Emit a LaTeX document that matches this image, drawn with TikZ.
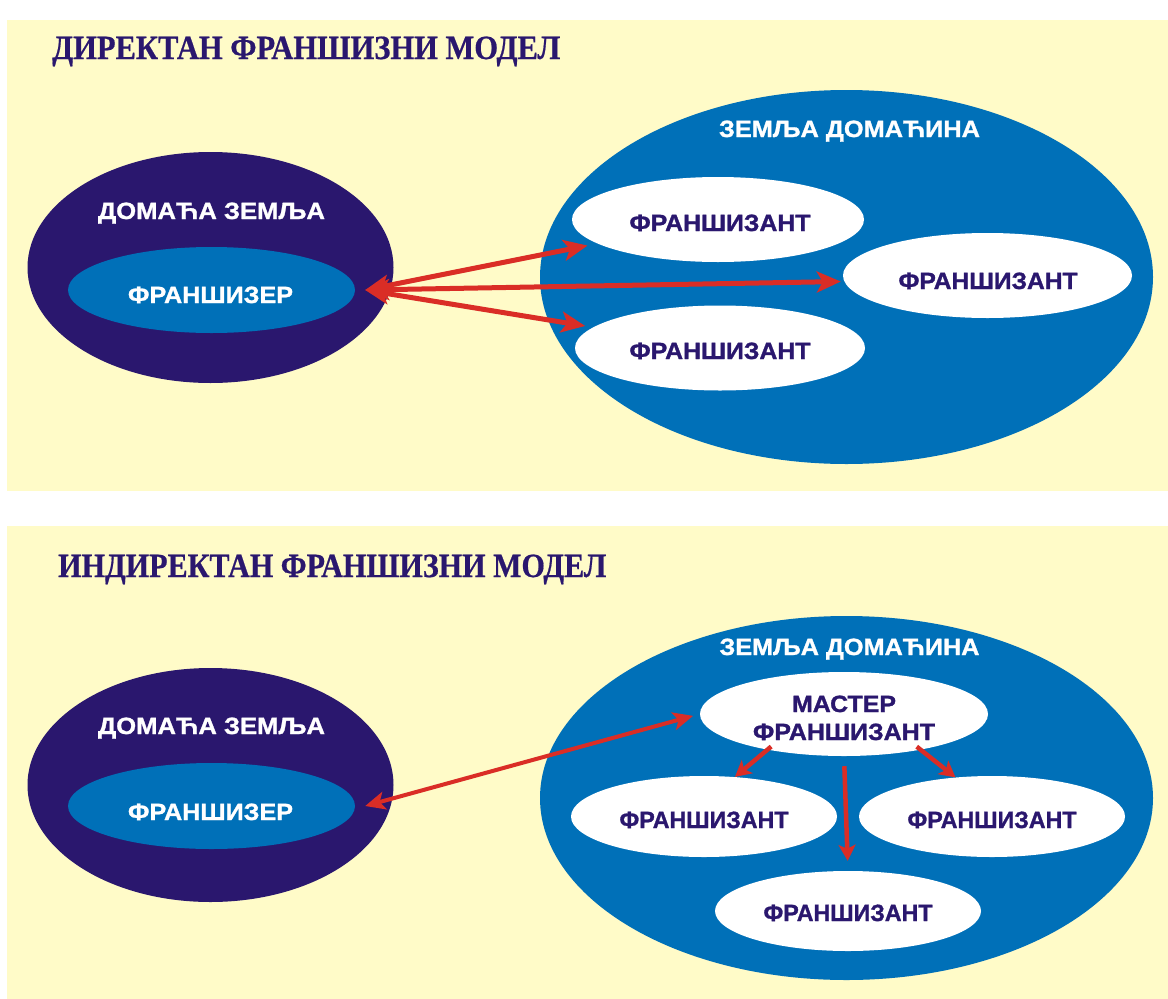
\documentclass[tikz,border=0pt]{standalone}
\usepackage{graphicx}
\usepackage{fontspec}
\setmainfont{Liberation Serif}[BoldFeatures={FakeBold=0.6}]
\setsansfont{Liberation Sans}[BoldFeatures={FakeBold=1.2}]
\usetikzlibrary{arrows.meta,shapes.geometric,calc}
\definecolor{bgy}{RGB}{255,251,200}
\definecolor{navy}{RGB}{42,23,110}
\definecolor{blu}{RGB}{0,112,184}
\definecolor{redc}{RGB}{218,45,38}
\newcommand{\fitw}[2]{\resizebox{#1}{\height}{#2}}
\tikzset{
  oval/.style={ellipse, inner sep=0pt, draw=none},
  homeoval/.style={oval, fill=navy},
  hostoval/.style={oval, fill=blu},
  fzoval/.style={oval, fill=blu},
  fnoval/.style={oval, fill=white},
  lbl/.style={inner sep=0pt, anchor=base, font=\sffamily\bfseries\fontsize{23.5}{28}\selectfont},
  wlbl/.style={lbl, text=white},
  nlbl/.style={lbl, text=navy},
  ttl/.style={inner sep=0pt, anchor=base west, text=navy, font=\rmfamily\bfseries\fontsize{34}{36}\selectfont},
  arrA/.style={draw=redc, line width=5pt, arrows={Stealth[length=24pt,width=21pt,inset=6pt]-Stealth[length=24pt,width=21pt,inset=6pt]}},
  arrB/.style={draw=redc, line width=4pt, arrows={Stealth[length=20pt,width=18pt,inset=5pt]-Stealth[length=20pt,width=18pt,inset=5pt]}},
  arrC/.style={draw=redc, line width=4.5pt, arrows={-Stealth[length=16pt,width=17pt,inset=4pt]}},
}
\begin{document}
\begin{tikzpicture}[x=1pt,y=-1pt]
\useasboundingbox (0,0) rectangle (1168,999);
\fill[white] (0,0) rectangle (1168,999);
\fill[bgy] (7,20) rectangle (1168,491);
\fill[bgy] (7,526) rectangle (1168,999);

% ---------- top panel ----------
\node[ttl] (title1) at (52,59) {\fitw{508pt}{ДИРЕКТАН ФРАНШИЗНИ МОДЕЛ}};

\node[homeoval, minimum width=366pt, minimum height=231pt] (home1) at (210.5,267.5) {};
\node[fzoval, minimum width=287pt, minimum height=86pt] (fr1) at (211.5,290) {};
\node[wlbl] (home1t) at (211.5,219) {\fitw{227pt}{ДОМАЋА ЗЕМЉА}};
\node[wlbl] (fr1t) at (210.5,303) {\fitw{165pt}{ФРАНШИЗЕР}};

\node[hostoval, minimum width=613pt, minimum height=374pt] (host1) at (846.5,277) {};
\node[wlbl] (host1t) at (849.5,137) {\fitw{261pt}{ЗЕМЉА ДОМАЋИНА}};
\node[fnoval, minimum width=292pt, minimum height=85pt] (fa1) at (718,219.5) {};
\node[fnoval, minimum width=289pt, minimum height=85pt] (fa2) at (987.5,275.5) {};
\node[fnoval, minimum width=290pt, minimum height=85pt] (fa3) at (720,348) {};
\node[nlbl] (fa1t) at (720,231) {\fitw{181pt}{ФРАНШИЗАНТ}};
\node[nlbl] (fa2t) at (988,289) {\fitw{179pt}{ФРАНШИЗАНТ}};
\node[nlbl] (fa3t) at (720,359) {\fitw{181pt}{ФРАНШИЗАНТ}};

\draw[arrA, shorten >=10pt] ([xshift=10pt]fr1.east) -- (fa1);
\draw[arrA, shorten >=2pt] ([xshift=10pt]fr1.east) -- ([yshift=-6pt]fa2.west);
\draw[arrA, shorten >=8pt] ([xshift=10pt]fr1.east) -- (fa3);

% ---------- bottom panel ----------
\node[ttl] (title2) at (58,577) {\fitw{548pt}{ИНДИРЕКТАН ФРАНШИЗНИ МОДЕЛ}};

\node[homeoval, minimum width=366pt, minimum height=234pt] (home2) at (210.5,785) {};
\node[fzoval, minimum width=287pt, minimum height=86pt] (fr2) at (211.5,806) {};
\node[wlbl] (home2t) at (211.5,734) {\fitw{227pt}{ДОМАЋА ЗЕМЉА}};
\node[wlbl] (fr2t) at (210.5,820) {\fitw{165pt}{ФРАНШИЗЕР}};

\node[hostoval, minimum width=613pt, minimum height=364pt] (host2) at (846.5,798) {};
\node[wlbl] (host2t) at (849.5,655) {\fitw{260pt}{ЗЕМЉА ДОМАЋИНА}};
\node[fnoval, minimum width=288pt, minimum height=84pt] (ms) at (844,714) {};
\node[fnoval, minimum width=266pt, minimum height=81pt] (fb1) at (704,816.5) {};
\node[fnoval, minimum width=266pt, minimum height=81pt] (fb2) at (992,816.5) {};
\node[fnoval, minimum width=266pt, minimum height=80pt] (fb3) at (848,911) {};
\node[nlbl] (mst1) at (844,712) {\fitw{104pt}{МАСТЕР}};
\node[nlbl] (mst2) at (844,740) {\fitw{182pt}{ФРАНШИЗАНТ}};
\node[nlbl] (fb1t) at (704,828) {\fitw{169pt}{ФРАНШИЗАНТ}};
\node[nlbl] (fb2t) at (992,828) {\fitw{169pt}{ФРАНШИЗАНТ}};
\node[nlbl] (fb3t) at (848,921) {\fitw{169pt}{ФРАНШИЗАНТ}};

\draw[arrB, shorten >=7pt] ([xshift=10pt]fr2.east) -- (ms.west);
\draw[arrC, shorten <=-5pt] (ms.205) -- (fb1.52);
\draw[arrC, shorten <=-5pt] (ms.335) -- (fb2.133);
\draw[arrC, shorten <=10pt, shorten >=10pt] (ms.south) -- (fb3.north);
\end{tikzpicture}
\end{document}
